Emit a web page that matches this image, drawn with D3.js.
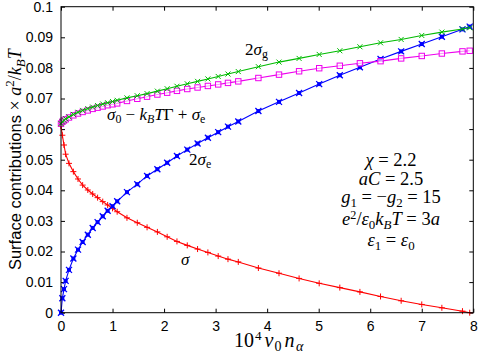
<!DOCTYPE html>
<html><head><meta charset="utf-8">
<script src="https://cdn.jsdelivr.net/npm/d3@7"></script>
<style>body{margin:0;background:#fff}</style>
</head><body>
<svg id="c" width="490" height="353"></svg>
<script>
const xVals = [0,0.026,0.058,0.09,0.155,0.24,0.33,0.42,0.52,0.615,0.71,0.81,0.905,1.0,1.09,1.28,1.48,1.67,1.87,2.06,2.25,2.45,2.65,2.85,3.05,3.24,3.44,3.83,4.23,4.62,5.01,5.41,5.8,6.2,6.6,7.0,7.39,7.79,7.93];
const sigmaG2 = [0.0618,0.0624,0.0629,0.0634,0.064,0.0648,0.0655,0.0661,0.0667,0.0672,0.0677,0.0682,0.0686,0.069,0.0694,0.0702,0.0709,0.0716,0.0724,0.0732,0.074,0.0748,0.0756,0.0764,0.0772,0.078,0.0788,0.0804,0.0819,0.0831,0.0844,0.0856,0.0869,0.0882,0.0893,0.0906,0.0917,0.0927,0.0931];
const sigma0Combo = [0.0618,0.0624,0.0628,0.0632,0.0638,0.0645,0.0651,0.0656,0.0661,0.0666,0.067,0.0674,0.0678,0.0681,0.0684,0.0692,0.0699,0.0706,0.0713,0.0719,0.0725,0.0731,0.0736,0.0741,0.0746,0.0751,0.0756,0.0767,0.0778,0.0789,0.0799,0.0807,0.0815,0.0822,0.0831,0.0839,0.0847,0.0854,0.0856];
const sigmaE2 = [0,0.0047,0.0077,0.0104,0.014,0.0177,0.0206,0.0231,0.0255,0.0277,0.0296,0.0315,0.0333,0.0348,0.0364,0.0394,0.042,0.0447,0.0469,0.049,0.0512,0.0533,0.0553,0.0572,0.059,0.0608,0.0625,0.0659,0.0689,0.0718,0.0747,0.0776,0.0802,0.0829,0.0854,0.0878,0.0902,0.0926,0.0935];
const sigma = [0.061,0.058,0.0548,0.0518,0.0488,0.0461,0.0437,0.0417,0.0401,0.0388,0.0376,0.0363,0.0352,0.0341,0.033,0.031,0.0294,0.0279,0.0264,0.0248,0.0233,0.022,0.0208,0.0197,0.0185,0.0175,0.0166,0.0146,0.0129,0.0112,0.0096,0.0082,0.0068,0.0053,0.0039,0.0027,0.0016,0.0005,0];
const xTicks = [0,1,2,3,4,5,6,7,8];
const yTicks = [0,0.01,0.02,0.03,0.04,0.05,0.06,0.07,0.08,0.09,0.1];
const yTickLabels = ["0","0.01","0.02","0.03","0.04","0.05","0.06","0.07","0.08","0.09","0.1"];

const svg = d3.select("#c");
const L=61, R=473.3, T=6.7, B=312.7;
const x = d3.scaleLinear().domain([0,8]).range([L,R]);
const y = d3.scaleLinear().domain([0,0.1]).range([B,T]);
const sans = "'Liberation Sans', Arial, sans-serif";
const serif = "'Liberation Serif', 'Times New Roman', serif";

// axes with inward ticks
const tl = 4;
svg.append("g").attr("transform",`translate(0,${B})`)
  .call(d3.axisBottom(x).tickValues(xTicks).tickSize(-tl).tickPadding(8).tickFormat(d3.format("d")))
  .call(g=>g.select(".domain").remove())
  .selectAll("text").attr("font-family",sans).attr("font-size",14).attr("fill","#000");
svg.append("g").attr("transform",`translate(0,${T})`)
  .call(d3.axisTop(x).tickValues(xTicks).tickSize(-tl).tickFormat(""))
  .call(g=>g.select(".domain").remove());
svg.append("g").attr("transform",`translate(${L},0)`)
  .call(d3.axisLeft(y).tickValues(yTicks).tickSize(-tl).tickPadding(8).tickFormat((d,i)=>yTickLabels[i]))
  .call(g=>g.select(".domain").remove())
  .selectAll("text").attr("font-family",sans).attr("font-size",14).attr("fill","#000");
svg.append("g").attr("transform",`translate(${R},0)`)
  .call(d3.axisRight(y).tickValues(yTicks).tickSize(-tl).tickFormat(""))
  .call(g=>g.select(".domain").remove());
svg.selectAll(".tick line").attr("stroke","#000");

const series = [
  {v:sigma, c:"#ff0000", m:"plus"},
  {v:sigmaE2, c:"#0000ff", m:"xsq"},
  {v:sigma0Combo, c:"#ee00ee", m:"sq"},
  {v:sigmaG2, c:"#00bb00", m:"x"}
];
const line = d3.line().x((d,i)=>x(xVals[i])).y(d=>y(d));
const plot = svg.append("g");
series.forEach(s=>{
  plot.append("path").datum(s.v).attr("d",line).attr("fill","none").attr("stroke",s.c).attr("stroke-width",1.1);
  const g = plot.append("g");
  s.v.forEach((d,i)=>{
    const px=x(xVals[i]), py=y(d);
    if(s.m==="plus"){
      g.append("path").attr("d",`M${px-3},${py}H${px+3}M${px},${py-3}V${py+3}`).attr("stroke",s.c).attr("stroke-width",1);
    } else if(s.m==="x"){
      g.append("path").attr("d",`M${px-2.5},${py-2.5}L${px+2.5},${py+2.5}M${px-2.5},${py+2.5}L${px+2.5},${py-2.5}`).attr("stroke",s.c).attr("stroke-width",1);
    } else if(s.m==="sq"){
      g.append("rect").attr("x",px-2.7).attr("y",py-2.7).attr("width",5.4).attr("height",5.4).attr("fill","#fff").attr("fill-opacity",0.6).attr("stroke",s.c).attr("stroke-width",1);
    } else {
      g.append("rect").attr("x",px-2).attr("y",py-2).attr("width",4).attr("height",4).attr("fill",s.c);
      g.append("path").attr("d",`M${px-3},${py-3}L${px+3},${py+3}M${px-3},${py+3}L${px+3},${py-3}`).attr("stroke",s.c).attr("stroke-width",1.3);
    }
  });
});

// frame
svg.append("rect").attr("x",L).attr("y",T).attr("width",R-L).attr("height",B-T).attr("fill","none").attr("stroke","#000").attr("stroke-width",1);

// math text helper: parts = [text, fmt, dx]
function mtext(parent, px, py, parts, size, anchor){
  const t = parent.append("text").attr("x",px).attr("y",py).attr("font-family",serif).attr("font-size",size).attr("text-anchor",anchor||"start").attr("fill","#000");
  let cur=0;
  parts.forEach(p=>{
    const [txt, fmt, dx] = p;
    let off=0, fs=size;
    if(fmt.includes("b")){off=size*0.2; fs=size*0.7;}
    if(fmt.includes("p")){off=-size*0.34; fs=size*0.66;}
    const ts = t.append("tspan").text(txt).attr("font-size",fs).attr("dy",off-cur);
    if(dx) ts.attr("dx",dx);
    if(fmt.includes("i")) ts.attr("font-style","italic");
    cur=off;
  });
  return t;
}
const fs=17;
mtext(svg,245,55,[["2","r"],["σ","i"],["g","b"]],fs);
mtext(svg,107,120,[["σ","i"],["0","b"],[" − ","r"],["k","i"],["B","ib"],["T","i"],["Γ","r"],[" + ","r"],["σ","i"],["e","b"]],fs);
mtext(svg,189,165,[["2","r"],["σ","i"],["e","b"]],fs);
mtext(svg,181,265,[["σ","i"]],fs);
const cx=391, bfs=18.5;
mtext(svg,cx,166,[["χ","i"],[" = 2.2","r"]],bfs,"middle");
mtext(svg,cx,185,[["aC","i"],[" = 2.5","r"]],bfs,"middle");
mtext(svg,cx,203,[["g","i"],["1","b"],[" = −","r"],["g","i"],["2","b"],[" = 15","r"]],bfs,"middle");
mtext(svg,cx,225,[["e","i"],["2","p"],["/","r"],["ε","i"],["0","b"],["k","i"],["B","ib"],["T","i"],[" = 3","r"],["a","i"]],bfs,"middle");
mtext(svg,cx,246,[["ε","i"],["1","b"],[" = ","r"],["ε","i"],["0","b"]],bfs,"middle");

// x label
mtext(svg,234,347,[["10","r"],["4","p",1],["v","i",3],["0","b",1],["n","i",3],["α","ib",1.5]],20,"start");

// y label
const yl = svg.append("text").attr("transform",`translate(21,${(T+B)/2}) rotate(-90)`).attr("text-anchor","middle").attr("fill","#000");
yl.append("tspan").text("Surface contributions ").attr("font-family",sans).attr("font-size",16.5);
yl.append("tspan").text("× ").attr("font-family",serif).attr("font-size",18);
yl.append("tspan").text("a").attr("font-family",serif).attr("font-style","italic").attr("font-size",18);
yl.append("tspan").text("2").attr("font-family",serif).attr("font-size",13).attr("dy",-7);
yl.append("tspan").text("/").attr("font-family",serif).attr("font-size",18).attr("dy",7);
yl.append("tspan").text("k").attr("font-family",serif).attr("font-style","italic").attr("font-size",18);
yl.append("tspan").text("B").attr("font-family",serif).attr("font-style","italic").attr("font-size",13).attr("dy",4);
yl.append("tspan").text("T").attr("font-family",serif).attr("font-style","italic").attr("font-size",18).attr("dy",-4);
</script>
</body></html>
